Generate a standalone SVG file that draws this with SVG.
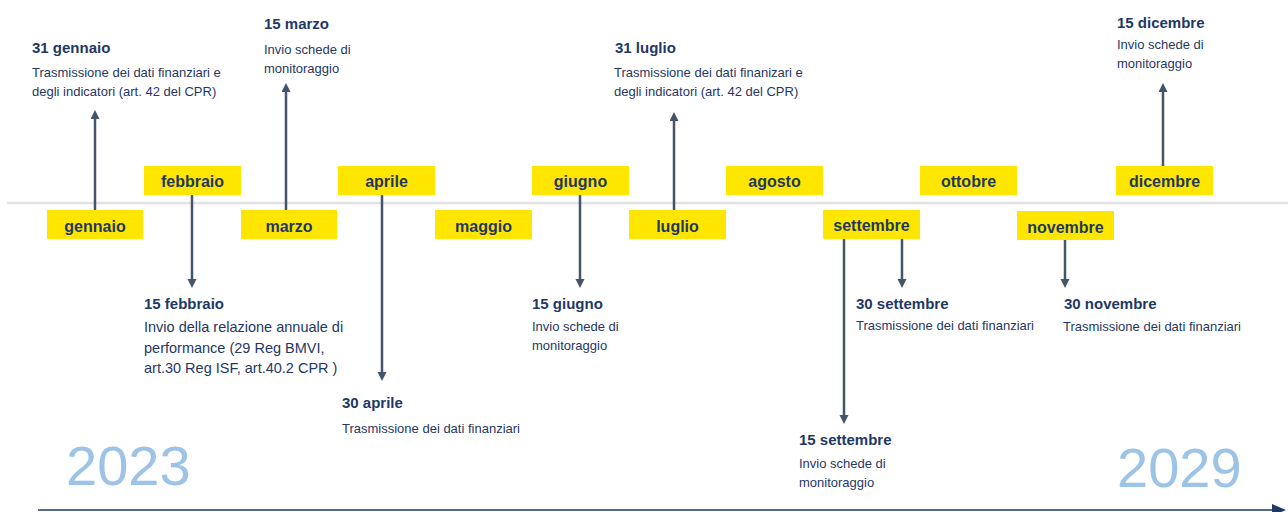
<svg xmlns="http://www.w3.org/2000/svg" width="1288" height="512" viewBox="0 0 1288 512">
<defs>
<style>
.box{fill:#FFE600}
.mon{font-family:"Liberation Sans",Arial,sans-serif;font-weight:bold;font-size:16px;fill:#1f3864;text-anchor:middle}
.ttl{font-family:"Liberation Sans",Arial,sans-serif;font-weight:bold;font-size:15px;fill:#1f3864}
.body{font-family:"Liberation Sans",Arial,sans-serif;font-size:13px;fill:#1f3864}
.body2{font-family:"Liberation Sans",Arial,sans-serif;font-size:14.5px;fill:#1f3864}
.year{font-family:"Liberation Sans",Arial,sans-serif;font-size:56px;fill:#9dc3e6}
.conn{stroke:#44546A;stroke-width:2.5;fill:none;marker-end:url(#ah)}
</style>
<marker id="ah" markerUnits="userSpaceOnUse" markerWidth="10" markerHeight="10" refX="3" refY="4.5" orient="auto">
<path d="M0,0 L9,4.5 L0,9 z" fill="#44546A"/>
</marker>
<marker id="axh" markerUnits="userSpaceOnUse" markerWidth="16" markerHeight="14" refX="2" refY="6" orient="auto">
<path d="M0,0 L14,6 L0,12 z" fill="#1f3864"/>
</marker>
</defs>
<rect width="1288" height="512" fill="#ffffff"/>
<line x1="7" y1="203" x2="1288" y2="203" stroke="#e2e2e2" stroke-width="2.5"/>
<g id="axis">
<line x1="38" y1="510" x2="1274" y2="510" stroke="#1f3864" stroke-width="1.5" marker-end="url(#axh)"/>
</g>
<g id="connectors">
<line class="conn" x1="95" y1="210" x2="95" y2="116"/>
<line class="conn" x1="192" y1="195" x2="192" y2="282"/>
<line class="conn" x1="286" y1="210" x2="286" y2="89"/>
<line class="conn" x1="382" y1="195" x2="382" y2="375"/>
<line class="conn" x1="580" y1="195" x2="580" y2="282"/>
<line class="conn" x1="674" y1="210" x2="674" y2="118"/>
<line class="conn" x1="844" y1="239" x2="844" y2="418"/>
<line class="conn" x1="902" y1="239" x2="902" y2="282"/>
<line class="conn" x1="1065" y1="240" x2="1065" y2="282"/>
<line class="conn" x1="1163" y1="166" x2="1163" y2="89"/>
</g>
<g id="m-gennaio"><rect class="box" x="47" y="210" width="96" height="29"/><text class="mon" x="95" y="232">gennaio</text></g>
<g id="m-febbraio"><rect class="box" x="144" y="166" width="97" height="29"/><text class="mon" x="192.5" y="187">febbraio</text></g>
<g id="m-marzo"><rect class="box" x="241" y="210" width="96" height="29"/><text class="mon" x="289" y="232">marzo</text></g>
<g id="m-aprile"><rect class="box" x="338" y="166" width="97" height="29"/><text class="mon" x="386.5" y="187">aprile</text></g>
<g id="m-maggio"><rect class="box" x="435" y="210" width="97" height="29"/><text class="mon" x="483.5" y="232">maggio</text></g>
<g id="m-giugno"><rect class="box" x="532" y="166" width="97" height="29"/><text class="mon" x="580.5" y="187">giugno</text></g>
<g id="m-luglio"><rect class="box" x="629" y="210" width="97" height="29"/><text class="mon" x="677.5" y="232">luglio</text></g>
<g id="m-agosto"><rect class="box" x="726" y="166" width="97" height="29"/><text class="mon" x="774.5" y="187">agosto</text></g>
<g id="m-settembre"><rect class="box" x="823" y="210" width="97" height="29"/><text class="mon" x="871.5" y="231">settembre</text></g>
<g id="m-ottobre"><rect class="box" x="920" y="166" width="97" height="29"/><text class="mon" x="968.5" y="187">ottobre</text></g>
<g id="m-novembre"><rect class="box" x="1017" y="211" width="97" height="29"/><text class="mon" x="1065.5" y="233">novembre</text></g>
<g id="m-dicembre"><rect class="box" x="1116" y="166" width="97" height="29"/><text class="mon" x="1164.5" y="187">dicembre</text></g>
<g id="e-31gennaio">
<text class="ttl" x="32" y="53">31 gennaio</text>
<text class="body" x="32" y="77">Trasmissione dei dati finanziari e</text>
<text class="body" x="32" y="96">degli indicatori (art. 42 del CPR)</text>
</g>
<g id="e-15marzo">
<text class="ttl" x="264" y="29">15 marzo</text>
<text class="body" x="264" y="54">Invio schede di</text>
<text class="body" x="264" y="73">monitoraggio</text>
</g>
<g id="e-31luglio">
<text class="ttl" x="615" y="53">31 luglio</text>
<text class="body" x="614" y="77">Trasmissione dei dati finanizari e</text>
<text class="body" x="614" y="96">degli indicatori (art. 42 del CPR)</text>
</g>
<g id="e-15dicembre">
<text class="ttl" x="1117" y="28">15 dicembre</text>
<text class="body" x="1117" y="49">Invio schede di</text>
<text class="body" x="1117" y="68">monitoraggio</text>
</g>
<g id="e-15febbraio">
<text class="ttl" x="144" y="309">15 febbraio</text>
<text class="body2" x="144" y="332">Invio della relazione annuale di</text>
<text class="body2" x="144" y="353">performance (29 Reg BMVI,</text>
<text class="body2" x="144" y="373">art.30 Reg ISF, art.40.2 CPR )</text>
</g>
<g id="e-30aprile">
<text class="ttl" x="342" y="408">30 aprile</text>
<text class="body" x="342" y="433">Trasmissione dei dati finanziari</text>
</g>
<g id="e-15giugno">
<text class="ttl" x="532" y="309">15 giugno</text>
<text class="body" x="532" y="331">Invio schede di</text>
<text class="body" x="532" y="350">monitoraggio</text>
</g>
<g id="e-15settembre">
<text class="ttl" x="799" y="445">15 settembre</text>
<text class="body" x="799" y="468">Invio schede di</text>
<text class="body" x="799" y="487">monitoraggio</text>
</g>
<g id="e-30settembre">
<text class="ttl" x="856" y="309">30 settembre</text>
<text class="body" x="856" y="330">Trasmissione dei dati finanziari</text>
</g>
<g id="e-30novembre">
<text class="ttl" x="1064" y="309">30 novembre</text>
<text class="body" x="1063" y="331">Trasmissione dei dati finanziari</text>
</g>
<g id="years">
<text class="year" x="66" y="485">2023</text>
<text class="year" x="1117" y="487">2029</text>
</g>
</svg>
